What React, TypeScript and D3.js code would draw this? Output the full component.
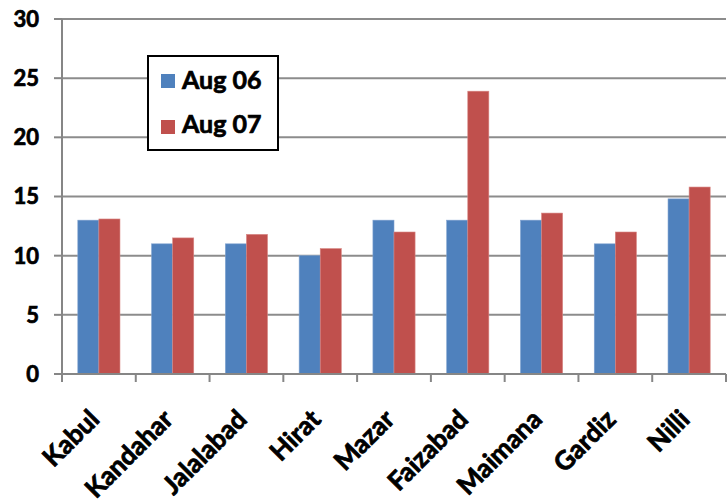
import { useEffect, useRef } from 'react'
import * as d3 from 'd3'

// data
const cities = ['Kabul', 'Kandahar', 'Jalalabad', 'Hirat', 'Mazar', 'Faizabad', 'Maimana', 'Gardiz', 'Nilli']
const aug06 = [13, 11, 11, 10, 13, 13, 13, 11, 14.8]
const aug07 = [13.1, 11.5, 11.8, 10.6, 12, 23.9, 13.6, 12, 15.8]
const seriesNames = ['Aug 06', 'Aug 07']
const seriesColors = ['#4F81BD', '#C0504D']
const yTicks = [0, 5, 10, 15, 20, 25, 30]

export default function App() {
  const ref = useRef<SVGSVGElement>(null)

  useEffect(() => {
    const width = 728, height = 500
    const left = 62, right = 726, top = 19, bottom = 374
    const font = 'Lato, "DejaVu Sans", sans-serif'

    const svg = d3.select(ref.current)
    svg.selectAll('*').remove()

    const x = d3.scaleBand().domain(cities).range([left, right]).paddingInner(0).paddingOuter(0)
    const y = d3.scaleLinear().domain([0, 30]).range([bottom, top])

    // gridlines
    svg.append('g')
      .selectAll('line')
      .data(yTicks.filter(d => d > 0))
      .join('line')
      .attr('x1', left).attr('x2', right)
      .attr('y1', d => y(d)).attr('y2', d => y(d))
      .attr('stroke', '#8c8c8c')
      .attr('stroke-width', 2)

    // bars (gap width 150%)
    const bw = x.bandwidth() / 3.5
    const series = [aug06, aug07]
    series.forEach((vals, i) => {
      svg.append('g')
        .selectAll('rect')
        .data(vals)
        .join('rect')
        .attr('x', (_, j) => (x(cities[j]) as number) + bw * 0.75 + i * bw)
        .attr('y', d => y(d))
        .attr('width', bw)
        .attr('height', d => bottom - y(d))
        .attr('fill', seriesColors[i])
        .attr('stroke', i === 0 ? '#7fa2d0' : '#d88784')
        .attr('stroke-width', 0.6)
    })

    // y axis
    const yAxis = svg.append('g')
    yAxis.append('line')
      .attr('x1', left).attr('x2', left)
      .attr('y1', top).attr('y2', bottom)
      .attr('stroke', '#868686').attr('stroke-width', 2)
    yAxis.selectAll('line.tick')
      .data(yTicks)
      .join('line')
      .attr('class', 'tick')
      .attr('x1', 54).attr('x2', left)
      .attr('y1', d => y(d)).attr('y2', d => y(d))
      .attr('stroke', '#868686').attr('stroke-width', 2)
    yAxis.selectAll('text')
      .data(yTicks)
      .join('text')
      .attr('x', 39)
      .attr('y', d => y(d))
      .attr('dy', '0.36em')
      .attr('text-anchor', 'end')
      .attr('font-family', font)
      .attr('font-weight', 'bold')
      .attr('font-size', 22)
      .attr('fill', '#000')
      .attr('stroke', '#000').attr('stroke-width', 0.7)
      .text(d => d)

    // x axis
    const xAxis = svg.append('g')
    xAxis.append('line')
      .attr('x1', left - 8).attr('x2', right)
      .attr('y1', bottom).attr('y2', bottom)
      .attr('stroke', '#868686').attr('stroke-width', 2)
    xAxis.selectAll('line.tick')
      .data([...cities.map(c => x(c) as number), right])
      .join('line')
      .attr('class', 'tick')
      .attr('x1', d => d).attr('x2', d => d)
      .attr('y1', bottom).attr('y2', bottom + 8)
      .attr('stroke', '#868686').attr('stroke-width', 2)
    xAxis.selectAll('text')
      .data(cities)
      .join('text')
      .attr('transform', d => `translate(${(x(d) as number) + x.bandwidth() / 2 + 2},${bottom + 47}) rotate(-45)`)
      .attr('text-anchor', 'end')
      .attr('font-family', font)
      .attr('font-weight', 'bold')
      .attr('font-size', 26)
      .attr('fill', '#000')
      .attr('stroke', '#000').attr('stroke-width', 0.8)
      .text(d => d)

    // legend
    const lg = svg.append('g')
    lg.append('rect')
      .attr('x', 148).attr('y', 56)
      .attr('width', 130).attr('height', 94)
      .attr('fill', '#fff')
      .attr('stroke', '#000').attr('stroke-width', 2)
    seriesNames.forEach((name, i) => {
      lg.append('rect')
        .attr('x', 161).attr('y', 74 + i * 46)
        .attr('width', 14).attr('height', 14)
        .attr('fill', seriesColors[i])
      lg.append('text')
        .attr('x', 182).attr('y', 89 + i * 44)
        .attr('font-family', font)
        .attr('font-weight', 'bold')
        .attr('font-size', 25)
        .attr('fill', '#000')
        .attr('stroke', '#000').attr('stroke-width', 0.7)
        .text(name)
    })

    svg.attr('width', width).attr('height', height)
  }, [])

  return (
    <svg ref={ref} width={728} height={500} style={{ position: 'absolute', left: 0, top: 0, background: '#fff' }} />
  )
}
